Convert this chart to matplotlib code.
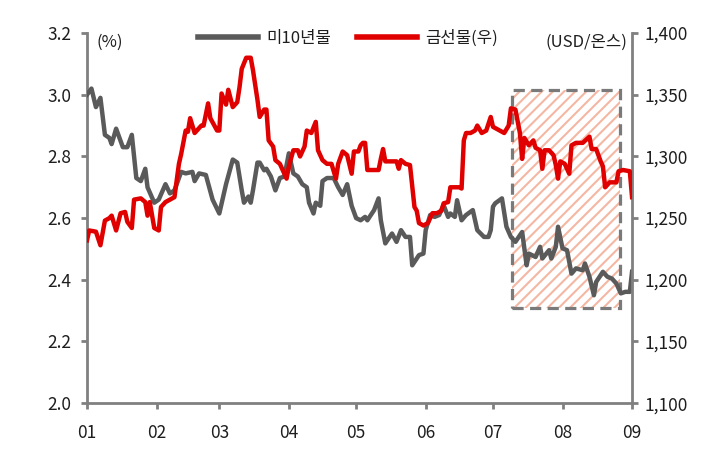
import matplotlib
matplotlib.use("Agg")
import matplotlib.pyplot as plt
import matplotlib.dates as mdates
from matplotlib.patches import Rectangle
from matplotlib.ticker import FuncFormatter, MultipleLocator
import pandas as pd
import numpy as np

plt.rcParams['font.family'] = ['Noto Sans CJK KR', 'DejaVu Sans']
plt.rcParams['font.weight'] = 'light'

# ---- data (day offsets from 2014-01-01) ----
start = "2014-01-01"
bond_days = [0, 2, 4, 6, 8, 10, 11, 13, 16, 18, 20, 22, 24, 26, 27, 30, 32, 35, 37, 39,
             42, 44, 47, 48, 50, 53, 56, 59, 62, 65, 67, 69, 70, 72, 73, 74, 76, 77, 79, 80,
             82, 84, 86, 88, 90, 92, 94, 96, 98, 99, 101, 102, 104, 105, 107, 110, 112, 114,
             116, 118, 120, 122, 124, 125, 127, 128, 130, 131, 133, 134, 136, 138, 140, 142,
             144, 145, 148, 150, 151, 153, 155, 157, 159, 161, 162, 164, 165, 167, 169, 172,
             174, 177, 179, 180, 181, 182, 185, 187, 189, 191, 194, 196, 197, 200, 202, 203,
             206, 207, 209, 210, 212, 214, 216, 218, 221, 222, 224, 226, 227, 230, 232, 234,
             236, 238, 240, 242, 243]
bond_vals = [3.00, 3.02, 2.96, 2.99, 2.87, 2.86, 2.84, 2.89, 2.83, 2.83, 2.87, 2.73, 2.72, 2.76,
             2.70, 2.65, 2.66, 2.71, 2.68, 2.69, 2.75, 2.745, 2.75, 2.72, 2.745, 2.74, 2.66,
             2.615, 2.71, 2.79, 2.78, 2.69, 2.65, 2.67, 2.65, 2.69, 2.78, 2.78, 2.755, 2.76,
             2.735, 2.69, 2.73, 2.735, 2.81, 2.745, 2.735, 2.71, 2.70, 2.65, 2.615, 2.65, 2.64,
             2.72, 2.73, 2.73, 2.70, 2.675, 2.71, 2.64, 2.60, 2.593, 2.604, 2.593, 2.615, 2.626,
             2.664, 2.593, 2.518, 2.529, 2.55, 2.523, 2.561, 2.539, 2.539, 2.447, 2.48, 2.485,
             2.561, 2.61, 2.604, 2.61, 2.642, 2.604, 2.615, 2.604, 2.658, 2.593, 2.61, 2.626,
             2.561, 2.539, 2.539, 2.561, 2.637, 2.648, 2.664, 2.572, 2.539, 2.523, 2.555, 2.447,
             2.485, 2.474, 2.507, 2.469, 2.496, 2.469, 2.507, 2.572, 2.502, 2.496, 2.42, 2.437,
             2.431, 2.453, 2.41, 2.35, 2.393, 2.426, 2.41, 2.404, 2.388, 2.356, 2.361, 2.361,
             2.426]

gold_days = [0, 1, 4, 6, 8, 10, 11, 13, 15, 17, 18, 20, 21, 24, 26, 27, 28, 30, 32, 33, 35, 37,
             39, 41, 42, 44, 45, 46, 48, 51, 52, 54, 55, 58, 59, 60, 62, 63, 65, 67, 68, 69, 71,
             73, 74, 76, 77, 79, 80, 81, 83, 84, 86, 89, 90, 92, 94, 95, 97, 98, 100, 102, 103,
             105, 107, 109, 111, 112, 114, 116, 118, 119, 121, 122, 123, 124, 125, 127, 130,
             131, 132, 133, 135, 138, 139, 140, 142, 144, 146, 147, 148, 150, 152, 154, 156,
             158, 159, 161, 162, 164, 166, 167, 168, 169, 171, 173, 174, 176, 178, 180, 181,
             182, 184, 186, 188, 189, 191, 193, 194, 195, 197, 199, 200, 202, 203, 204, 206,
             208, 209, 210, 211, 213, 215, 216, 218, 221, 224, 225, 227, 229, 230, 231, 233,
             236, 237, 239, 242, 243]
gold_vals = [1232, 1240, 1239, 1228, 1248, 1250, 1252, 1240, 1254, 1255, 1247, 1242, 1265, 1266,
             1263, 1252, 1263, 1242, 1240, 1259, 1263, 1265, 1267, 1294, 1302, 1321, 1320, 1331,
             1319, 1325, 1325, 1343, 1331, 1321, 1321, 1351, 1342, 1354, 1340, 1344, 1356, 1371,
             1380, 1380, 1370, 1346, 1332, 1338, 1338, 1313, 1308, 1297, 1294, 1282, 1292, 1305,
             1305, 1300, 1308, 1321, 1319, 1328, 1305, 1297, 1294, 1294, 1282, 1294, 1304, 1301,
             1286, 1304, 1304, 1309, 1311, 1311, 1289, 1289, 1289, 1298, 1306, 1296, 1296, 1296,
             1290, 1297, 1294, 1293, 1259, 1256, 1246, 1244, 1246, 1254, 1254, 1256, 1262, 1263,
             1275, 1275, 1275, 1274, 1313, 1319, 1319, 1321, 1325, 1319, 1321, 1332, 1324, 1323,
             1321, 1319, 1325, 1339, 1338, 1319, 1298, 1315, 1309, 1313, 1307, 1305, 1290, 1305,
             1305, 1301, 1293, 1282, 1296, 1294, 1286, 1309, 1311, 1311, 1316, 1306, 1306, 1296,
             1292, 1275, 1279, 1279, 1288, 1289, 1288, 1267]

box_days = [189.6, 237.5]     # shaded period
box_yield = [2.31, 3.015]     # vertical extent in left-axis units

bond_label = "미10년물"
gold_label = "금선물(우)"

# ---- figure ----
fig = plt.figure(figsize=(7.07, 4.53), dpi=100)
ax = fig.add_axes([0.123, 0.110, 0.771, 0.817])
ax2 = ax.twinx()

t0 = pd.Timestamp(start)
bond_x = [t0 + pd.Timedelta(days=d) for d in bond_days]
gold_x = [t0 + pd.Timedelta(days=d) for d in gold_days]

gray = "#5a5a5a"
red = "#e00000"
axis_gray = "#808080"

# shaded box
bx0 = mdates.date2num(t0 + pd.Timedelta(days=box_days[0]))
bx1 = mdates.date2num(t0 + pd.Timedelta(days=box_days[1]))
plt.rcParams['hatch.linewidth'] = 1.5
hatch = Rectangle((bx0, box_yield[0]), bx1 - bx0, box_yield[1] - box_yield[0],
                  facecolor="none", edgecolor="#f4b7a3", hatch="///", linewidth=0, zorder=1)
ax.add_patch(hatch)
border = Rectangle((bx0, box_yield[0]), bx1 - bx0, box_yield[1] - box_yield[0],
                   facecolor="none", edgecolor="#7a7a7a", linewidth=2.3,
                   linestyle=(0, (3.5, 2)), zorder=2)
ax.add_patch(border)

l1, = ax.plot(bond_x, bond_vals, color=gray, lw=3.2, zorder=3, label=bond_label,
              solid_joinstyle="round")
l2, = ax2.plot(gold_x, gold_vals, color=red, lw=3.2, zorder=3, label=gold_label,
               solid_joinstyle="round")

ax.set_xlim(t0, pd.Timestamp("2014-09-01"))
ax.set_ylim(2.0, 3.2)
ax2.set_ylim(1100, 1400)
ax.yaxis.set_major_locator(MultipleLocator(0.2))
ax2.yaxis.set_major_locator(MultipleLocator(50))
ax.yaxis.set_major_formatter(FuncFormatter(lambda v, p: f"{v:.1f}"))
ax2.yaxis.set_major_formatter(FuncFormatter(lambda v, p: f"{v:,.0f}"))
ax.xaxis.set_major_locator(mdates.MonthLocator())
ax.xaxis.set_major_formatter(mdates.DateFormatter("%m"))

for a in (ax, ax2):
    a.spines["top"].set_visible(False)
    for s in a.spines.values():
        s.set_color(axis_gray)
        s.set_linewidth(2.0)
ax.spines["right"].set_visible(False)
ax2.spines["left"].set_visible(False)
ax2.spines["bottom"].set_visible(False)

txtc = "#1e1e1e"
fs = 12.5
ax.tick_params(axis="y", direction="out", length=4, width=2, color=axis_gray,
               labelsize=fs, labelcolor=txtc, pad=7)
ax.tick_params(axis="x", direction="out", length=4, width=2, color=axis_gray,
               labelsize=fs, labelcolor=txtc, pad=11)
ax2.tick_params(axis="y", direction="out", length=4, width=2, color=axis_gray,
                labelsize=fs, labelcolor=txtc, pad=5)

ax.text(0.018, 0.976, "(%)", transform=ax.transAxes, ha="left", va="center",
        fontsize=12, color=txtc)
ax.text(0.991, 0.976, "(USD/온스)", transform=ax.transAxes, ha="right", va="center",
        fontsize=12, color=txtc)

leg = ax.legend(handles=[l1, l2], loc="center", bbox_to_anchor=(0.479, 0.986), ncol=2,
                frameon=False, fontsize=12, handlelength=3.6, handletextpad=0.45,
                columnspacing=1.6, borderaxespad=0)
for t in leg.get_texts():
    t.set_color(txtc)
for h in leg.get_lines():
    h.set_linewidth(4)

fig.savefig("out.png", dpi=100)
